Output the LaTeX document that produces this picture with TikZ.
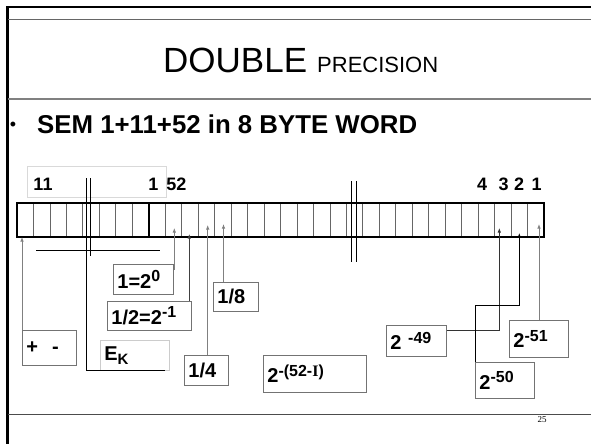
\documentclass[tikz,border=0pt]{standalone}
\usepackage{fontspec}
\setmainfont{Liberation Sans}
\newfontfamily\serifrm{Liberation Serif}
\usetikzlibrary{arrows.meta}
\newcommand\supr[1]{\raisebox{6.5pt}{\fontsize{16}{16}\selectfont #1}}
\begin{document}
\begin{tikzpicture}[x=1pt,y=-1pt,
  lbl/.style={draw=black!55, line width=0.8pt, font=\bfseries\fontsize{20}{22}\selectfont,
    anchor=north west, inner xsep=4pt, inner ysep=0pt, align=left},
  num/.style={font=\bfseries\fontsize{18}{20}\selectfont, inner sep=0pt, anchor=base},
  conn/.style={draw=black!50, line width=0.8pt},
  arr/.style={conn, -{Latex[length=4.5pt,width=3.5pt]}},
  cell/.style={draw=black!60, line width=0.8pt},
  thin/.style={draw=black, line width=0.8pt}]
\useasboundingbox (0,0) rectangle (591,444);
% frame
\draw[line width=2.5pt] (7.5,6.3) -- (7.5,444);
\draw[line width=1.5pt] (6.3,7) -- (591,7);
\draw[black!60, line width=1pt] (8,20) -- (591,20);
\draw[black!50, line width=1.2pt] (8,99) -- (591,99);
\draw[black!70, line width=1pt] (8,414) -- (591,414);
% title
\node[anchor=base west, inner sep=0pt, font=\fontsize{35}{40}\selectfont] (ttl1) at (163,73) {DOUBLE};
\node[anchor=base west, inner sep=0pt, font=\fontsize{22}{26}\selectfont] (ttl2) at (317,73) {PRECISION};
% bullet
\node[inner sep=0pt, font=\fontsize{18}{20}\selectfont] (dot) at (13,126) {•};
\node[anchor=base west, inner sep=0pt, font=\bfseries\fontsize{25.8}{30}\selectfont] (sem) at (37,133) {SEM 1+11+52 in 8 BYTE WORD};
% light text box
\draw[black!15, line width=0.8pt] (27,166) rectangle (166,197);
% numbers
\node[num] (n11) at (43,190) {11};
\node[num] (n1a) at (153.5,190) {1};
\node[num] (n52) at (176.5,190) {52};
\node[num] (n4) at (482,190) {4};
\node[num] (n3) at (503.5,190) {3};
\node[num] (n2) at (519,190) {2};
\node[num] (n1b) at (536.5,190) {1};
% register
\foreach \i in {1,...,31} {
  \draw[cell] ({17+\i*16.47},203) -- ++(0,34);
}
\draw[line width=1.5pt] ({17+8*16.47},203) -- ++(0,34);
\draw[line width=1.5pt] (17,203) rectangle (544,237);
% breaks
\draw[thin] (86,178) -- (86,370) -- (165,370);
\draw[thin] (90,178) -- (90,256);
\draw[thin] (36,250) -- (160,250);
\draw[thin] (351.7,181) -- (351.7,262);
\draw[thin] (356.7,181) -- (356.7,262);
% boxes
\node[lbl, text width=46pt, minimum height=35pt] (pm) at (22,330) {+\hspace{14pt}-};
\node[lbl, draw=black!20, text width=61pt, minimum height=30pt] (ek) at (100,340) {E\raisebox{-4pt}{\fontsize{15}{15}\selectfont K}};
\draw[thin] (86,370) -- (165,370);
\node[lbl, text width=52pt, minimum height=30pt] (b1) at (113,264) {1=2\supr{0}};
\node[lbl, text width=76pt, minimum height=29pt] (b2) at (107,301) {1/2=2\supr{-1}};
\node[lbl, text width=37pt, minimum height=29pt] (b8) at (213,282) {1/8};
\node[lbl, text width=36pt, minimum height=30pt] (b4) at (184,355) {1/4};
\node[lbl, text width=95pt, minimum height=37pt] (bI) at (263,355) {2\supr{-(52-{\serifrm\bfseries I})}};
\node[lbl, text width=52pt, minimum height=31pt] (b49) at (386,325) {2 \supr{-49}};
\node[lbl, text width=51pt, minimum height=37pt] (b51) at (509,320) {2\supr{-51}};
\node[lbl, text width=51pt, minimum height=36pt] (b50) at (475,362) {2\supr{-50}};
% arrow tips
\coordinate (t0) at (22,237);
\coordinate (t1) at (174.3,228);
\coordinate (t2) at (189.3,234);
\coordinate (t4) at (207.7,225);
\coordinate (t8) at (223.5,224);
\coordinate (t49) at (499.3,228);
\coordinate (t50) at (519.3,233);
\coordinate (t51) at (539,224);
\coordinate (m50) at (519.3,305.7);
% connectors
\draw[arr] (pm.north west) -- (t0);
\draw[arr] ([yshift=-5pt]b1.north east) -| (t1);
\draw[arr, draw=black!75] (t2 |- b2.north) -- (t2);
\draw[arr] (t4 |- b4.north) -- (t4);
\draw[arr] (t8 |- b8.north) -- (t8);
\draw[arr, draw=black!80] ([yshift=-5pt]b49.north east) -| (t49);
\draw[arr, draw=black] (b50.north west) |- (m50) -- (t50);
\draw[arr] (t51 |- b51.north) -- (t51);
% page number
\node[font=\serifrm\fontsize{9}{10}\selectfont, inner sep=0pt] (pg) at (542,420) {25};
\end{tikzpicture}
\end{document}
